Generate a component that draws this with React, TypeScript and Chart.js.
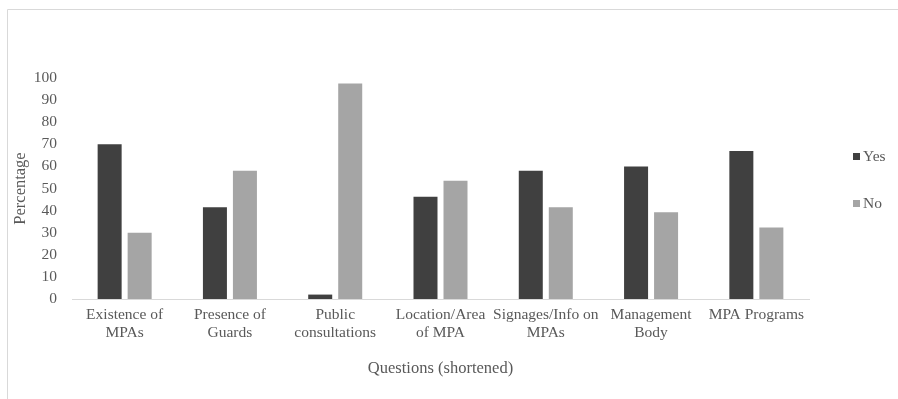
import React, { useEffect, useRef } from "react";
import { Chart, registerables } from "chart.js";

Chart.register(...registerables);

const categories: (string | string[])[] = [
  ["Existence of", "MPAs"],
  ["Presence of", "Guards"],
  ["Public", "consultations"],
  ["Location/Area", "of MPA"],
  ["Signages/Info on", "MPAs"],
  ["Management", "Body"],
  "MPA Programs",
];
const yesValues = [70, 41.5, 2, 46.3, 58, 60, 67];
const noValues = [30, 58, 97.5, 53.5, 41.5, 39.3, 32.3];
const seriesLabels = ["Yes", "No"];
const seriesColors = ["#404040", "#a5a5a5"];
const yTitle = "Percentage";
const xTitle = "Questions (shortened)";

const FONT = "'Liberation Serif', 'Times New Roman', serif";
const TEXT = "#595959";

const framePlugin = {
  id: "frame",
  beforeDraw(chart: any) {
    const ctx = chart.ctx;
    ctx.save();
    ctx.strokeStyle = "#d9d9d9";
    ctx.lineWidth = 1;
    ctx.beginPath();
    ctx.moveTo(7.5, chart.height);
    ctx.lineTo(7.5, 9.5);
    ctx.lineTo(chart.width, 9.5);
    ctx.stroke();
    ctx.restore();
  },
};

const legendPlugin = {
  id: "customLegend",
  afterDraw(chart: any) {
    const ctx = chart.ctx;
    ctx.save();
    ctx.font = `15.5px ${FONT}`;
    ctx.textBaseline = "middle";
    ctx.textAlign = "left";
    chart.data.datasets.forEach((ds: any, i: number) => {
      const y = 156.5 + i * 47;
      ctx.fillStyle = ds.backgroundColor;
      ctx.fillRect(853, y - 3.5, 7, 7);
      ctx.fillStyle = TEXT;
      ctx.fillText(ds.label, 863, y);
    });
    ctx.restore();
  },
};

export default function App() {
  const ref = useRef<HTMLCanvasElement>(null);
  useEffect(() => {
    if (!ref.current) return;
    const chart = new Chart(ref.current, {
      type: "bar",
      data: {
        labels: categories,
        datasets: [
          { label: seriesLabels[0], data: yesValues, backgroundColor: seriesColors[0] },
          { label: seriesLabels[1], data: noValues, backgroundColor: seriesColors[1] },
        ],
      },
      options: {
        responsive: false,
        animation: false,
        devicePixelRatio: 1,
        layout: { padding: { top: 78, right: 89, left: 0, bottom: 0 } },
        datasets: { bar: { categoryPercentage: 0.57, barPercentage: 0.8 } },
        plugins: { legend: { display: false }, tooltip: { enabled: false } },
        scales: {
          x: {
            grid: { display: false, drawTicks: false },
            border: { display: true, color: "#d9d9d9", width: 1 },
            ticks: {
              color: TEXT,
              font: { family: FONT, size: 15.5, lineHeight: 1.17 },
              padding: 7,
              maxRotation: 0,
              autoSkip: false,
            },
            title: {
              display: true,
              text: xTitle,
              color: TEXT,
              font: { family: FONT, size: 16.5 },
              padding: { top: 0, bottom: 20 },
            },
            afterFit(scale: any) {
              scale.height = 100;
            },
          },
          y: {
            min: 0,
            max: 100,
            grid: { display: false, drawTicks: false },
            border: { display: false },
            ticks: {
              stepSize: 10,
              color: TEXT,
              font: { family: FONT, size: 15.5 },
              padding: 15,
            },
            title: {
              display: true,
              text: yTitle,
              color: TEXT,
              font: { family: FONT, size: 16.5 },
              padding: { top: 11, bottom: 0 },
            },
            afterFit(scale: any) {
              scale.width = 72;
            },
          },
        },
      },
      plugins: [framePlugin, legendPlugin],
    });
    return () => chart.destroy();
  }, []);
  return (
    <div style={{ position: "absolute", left: 0, top: 0, width: 898, height: 399, background: "#fff" }}>
      <canvas ref={ref} width={898} height={399} />
    </div>
  );
}
